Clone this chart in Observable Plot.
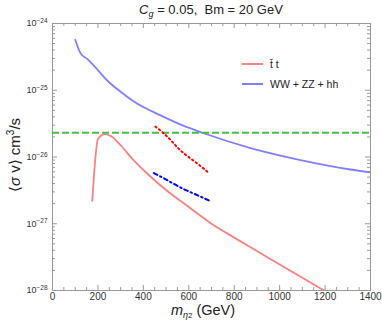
<!DOCTYPE html>
<html>
<head>
<meta charset="utf-8">
<script src="https://cdn.jsdelivr.net/npm/d3@7"></script>
<script src="https://cdn.jsdelivr.net/npm/@observablehq/plot@0.6"></script>
<style>
  body { margin: 0; background: #fff; }
  #chart svg { display: block; }
</style>
</head>
<body>
<div id="chart"></div>
<script>
// ---- data ----
const ttMass = [175, 200, 230, 263, 300, 358, 431, 500, 600, 700, 800, 900, 1000, 1100, 1200];
const ttSigma = [2.2e-27, 1.85e-26, 2.2e-26, 2.0e-26, 1.5e-26, 8.9e-27, 5.1e-27, 3.2e-27, 1.78e-27, 1.0e-27, 6.2e-28, 3.9e-28, 2.45e-28, 1.55e-28, 0.98e-28];

const vvMass = [100, 123, 153, 200, 241, 300, 358, 476, 570, 666, 872, 1092, 1312, 1400];
const vvSigma = [5.7e-25, 3.6e-25, 2.95e-25, 2.0e-25, 1.4e-25, 9.5e-26, 6.8e-26, 4.2e-26, 3.0e-26, 2.27e-26, 1.36e-26, 9.0e-27, 6.5e-27, 5.9e-27];

const redDotMass = [453, 510, 563, 625, 688];
const redDotSigma = [2.86e-26, 1.95e-26, 1.26e-26, 8.6e-27, 5.8e-27];

const blueDashMass = [446, 505, 563, 625, 688];
const blueDashSigma = [5.75e-27, 4.5e-27, 3.5e-27, 2.8e-27, 2.24e-27];

const relicSigma = 2.3e-26;

const xMajor = [0, 200, 400, 600, 800, 1000, 1200, 1400];
const xMinor = d3.range(0, 1401, 50).filter(v => v % 200 !== 0);
const yExponents = [-28, -27, -26, -25, -24];
const yMajor = yExponents.map(e => Math.pow(10, e));
const yMinor = [];
for (let e = -28; e < -24; e++) for (let k = 2; k <= 9; k++) yMinor.push(k * Math.pow(10, e));

const legendLabels = ["t\u0304 t", "WW + ZZ + hh"];
const legendColors = ["#ff8080", "#8080ff"];

// ---- tables ----
const tt = ttMass.map((m, i) => ({m, s: ttSigma[i]}));
const vv = vvMass.map((m, i) => ({m, s: vvSigma[i]}));
const rd = redDotMass.map((m, i) => ({m, s: redDotSigma[i]}));
const bd = blueDashMass.map((m, i) => ({m, s: blueDashSigma[i]}));

const W = 382, H = 322;
const mL = 52, mR = 12, mT = 23, mB = 32;
const fw = W - mL - mR, fh = H - mT - mB;
const tickCol = "#999";

const chart = Plot.plot({
  width: W, height: H,
  marginLeft: mL, marginRight: mR, marginTop: mT, marginBottom: mB,
  style: {fontFamily: "'Liberation Sans', Arial, sans-serif", fontSize: "10px", color: "#333", background: "#fff"},
  x: {domain: [0, 1400]},
  y: {type: "log", domain: [1e-28, 1e-24]},
  marks: [
    // ticks (inward, on all sides)
    Plot.ruleX(xMajor, {insetTop: fh - 5, stroke: tickCol}),
    Plot.ruleX(xMajor, {insetBottom: fh - 5, stroke: tickCol}),
    Plot.ruleX(xMinor, {insetTop: fh - 3, stroke: tickCol}),
    Plot.ruleX(xMinor, {insetBottom: fh - 3, stroke: tickCol}),
    Plot.ruleY(yMajor, {insetRight: fw - 5, stroke: tickCol}),
    Plot.ruleY(yMajor, {insetLeft: fw - 5, stroke: tickCol}),
    Plot.ruleY(yMinor, {insetRight: fw - 3, stroke: tickCol}),
    Plot.ruleY(yMinor, {insetLeft: fw - 3, stroke: tickCol}),
    Plot.frame({stroke: tickCol}),
    Plot.axisX(xMajor, {tickSize: 0, tickPadding: 2, label: null, fontSize: 10, fill: "#333", tickFormat: d => String(d)}),
    Plot.axisY(yMajor, {tickSize: 0, tickPadding: 5, label: null, fontSize: 9, fill: "#333",
      tickFormat: d => "10^" + Math.round(Math.log10(d))}),
    // curves
    Plot.line(vv, {x: "m", y: "s", stroke: "#8080ff", strokeWidth: 1.8, clip: true, curve: "monotone-x"}),
    Plot.line(tt, {x: "m", y: "s", stroke: "#ff8080", strokeWidth: 1.8, clip: true, curve: "monotone-x"}),
    Plot.ruleY([relicSigma], {stroke: "#44c044", strokeWidth: 2, strokeDasharray: "7,3"}),
    Plot.line(rd, {x: "m", y: "s", stroke: "#ff0000", strokeWidth: 2, strokeDasharray: "1.5,3", strokeLinecap: "round", curve: "natural"}),
    Plot.line(bd, {x: "m", y: "s", stroke: "#0000ff", strokeWidth: 2, strokeDasharray: "4,3,1.5,3", curve: "natural"})
  ]
});

const svg = d3.select(chart);
// superscript exponents on y tick labels
svg.selectAll('g[aria-label="y-axis tick label"] text').each(function() {
  const t = d3.select(this);
  const s = t.text();
  if (s.startsWith("10^")) {
    const exp = s.slice(3).replace("-", "\u2212");
    t.text("10");
    t.append("tspan").attr("dy", "-0.5em").attr("font-size", "6.5px").text(exp);
  }
});

const font = "'Liberation Sans', Arial, sans-serif";
// title
const title = svg.append("text").attr("x", 211).attr("y", 14).attr("text-anchor", "middle")
  .attr("font-family", font).attr("font-size", "13px").attr("fill", "#222");
title.append("tspan").attr("font-style", "italic").text("C");
title.append("tspan").attr("font-style", "italic").attr("font-size", "9px").attr("dy", "3").text("g");
title.append("tspan").attr("dy", "-3").text(" = 0.05,  Bm = 20 GeV");

// x label
const xl = svg.append("text").attr("x", 203).attr("y", 315).attr("text-anchor", "middle")
  .attr("font-family", font).attr("font-size", "14.5px").attr("fill", "#222");
xl.append("tspan").attr("font-style", "italic").text("m");
xl.append("tspan").attr("font-style", "italic").attr("font-size", "9px").attr("dy", "3").text("\u03b7");
xl.append("tspan").attr("font-size", "8px").text("2");
xl.append("tspan").attr("dy", "-3").text(" (GeV)");

// y label
const yl = svg.append("text").attr("transform", "translate(20,155) rotate(-90)").attr("text-anchor", "middle")
  .attr("font-family", font).attr("font-size", "15px").attr("fill", "#222");
yl.append("tspan").text("\u27e8");
yl.append("tspan").attr("font-style", "italic").text("\u03c3");
yl.append("tspan").text(" v\u27e9 cm");
yl.append("tspan").attr("font-size", "10px").attr("dy", "-6").text("3");
yl.append("tspan").attr("dy", "6").text("/s");

// legend
legendLabels.forEach((lab, i) => {
  const y = 64 + i * 20;
  svg.append("line").attr("x1", 242).attr("x2", 263).attr("y1", y).attr("y2", y)
    .attr("stroke", legendColors[i]).attr("stroke-width", 2);
  svg.append("text").attr("x", 270).attr("y", y + 4).attr("text-anchor", "start").attr("font-family", font)
    .attr("font-size", "10.5px").attr("fill", "#222").text(lab);
});

document.getElementById("chart").appendChild(chart);
</script>
</body>
</html>
